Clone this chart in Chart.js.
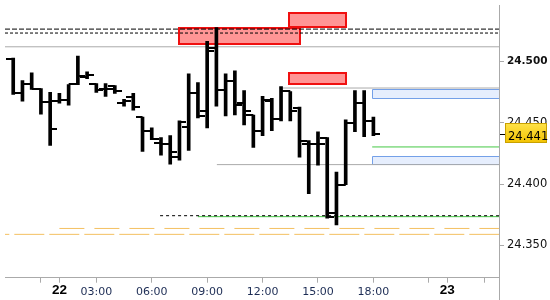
<!DOCTYPE html>
<html>
<head>
<meta charset="utf-8">
<script src="https://cdn.jsdelivr.net/npm/chart.js@4.4.1/dist/chart.umd.min.js"></script>
<style>
  html, body { margin: 0; padding: 0; background: #fff; }
  #wrap { width: 550px; height: 300px; }
</style>
</head>
<body>
<div id="wrap"><canvas id="chart" width="550" height="300"></canvas></div>
<script>
// 30 minute bars, one per slot (slot = bar index on the x axis)
const opens  = [24.5018, 24.4738, 24.4818, 24.4778, 24.4666, 24.4674, 24.4682, 24.4818, 24.4874, 24.4818,
                24.4778, 24.4802, 24.4658, 24.4706, 24.4546, 24.4434, 24.4338, 24.4330, 24.4218, 24.4466,
                24.4738, 24.4594, 24.5106, 24.4770, 24.4842, 24.4658, 24.4562, 24.4434, 24.4674, 24.4530,
                24.4754, 24.4618, 24.4330, 24.4330, 24.4378, 24.3762, 24.3994, 24.4498, 24.4658, 24.4514];
const highs  = [24.5026, 24.4842, 24.4906, 24.4778, 24.4746, 24.4738, 24.4810, 24.5042, 24.4914, 24.4818,
                24.4818, 24.4802, 24.4690, 24.4738, 24.4546, 24.4458, 24.4378, 24.4394, 24.4514, 24.4898,
                24.4826, 24.5162, 24.5274, 24.4898, 24.4922, 24.4762, 24.4562, 24.4714, 24.4698, 24.4794,
                24.4754, 24.4626, 24.4354, 24.4426, 24.4378, 24.4098, 24.4522, 24.4762, 24.4762, 24.4546];
const lows   = [24.4730, 24.4674, 24.4770, 24.4570, 24.4314, 24.4658, 24.4642, 24.4810, 24.4858, 24.4746,
                24.4714, 24.4738, 24.4634, 24.4602, 24.4266, 24.4362, 24.4234, 24.4162, 24.4194, 24.4274,
                24.4538, 24.4458, 24.4634, 24.4554, 24.4562, 24.4482, 24.4298, 24.4394, 24.4434, 24.4514,
                24.4514, 24.4218, 24.3922, 24.4154, 24.3722, 24.3666, 24.3994, 24.4426, 24.4386, 24.4394];
const closes = [24.4738, 24.4818, 24.4778, 24.4666, 24.4450, 24.4682, 24.4818, 24.4882, 24.4890, 24.4762,
                24.4778, 24.4754, 24.4674, 24.4626, 24.4434, 24.4370, 24.4330, 24.4258, 24.4506, 24.4738,
                24.4554, 24.5082, 24.4770, 24.4842, 24.4642, 24.4594, 24.4434, 24.4682, 24.4530, 24.4754,
                24.4594, 24.4354, 24.4330, 24.4330, 24.3730, 24.3994, 24.4498, 24.4658, 24.4514, 24.4410];

// time axis
const tickSlots  = [3, 5, 9, 15, 21, 27, 33, 39, 45, 47, 51];
const tickLabels = ['', '22', '03:00', '06:00', '09:00', '12:00', '15:00', '18:00', '', '23', ''];
const dayLabels  = ['22', '23'];
const xMin = -0.89, xMax = 52.6;

// price axis
const priceTicks = [24.35, 24.40, 24.45, 24.50];
const yMin = 24.32368, yMax = 24.54584;
const lastPrice = 24.441;

// horizontal levels
const levelValues  = [24.5262, 24.5230, 24.5118, 24.4782, 24.4158, 24.4302, 24.3742, 24.3734, 24.3638, 24.3590];
const levelStarts  = [xMin, xMin, xMin, 28.8, 22.05, 38.87, 15.9, 20.0, 5.0, xMin];
const levelColors  = ['#000', '#000', '#aaa', '#aaa', '#aaa', '#44c844', '#000', '#44c844', '#f4c060', '#f4c060'];
const levelDashes  = [[5, 2], [3, 2], [], [], [], [], [3, 3], [], [25, 10], [30, 5]];
const levelOffsets = [0, 0, 0, 0, 0, 0, 0, 0, 0, 25.7];

// zones: slot from, slot to, top price, bottom price
const redZones  = [[18, 31, 24.5272, 24.5144], [29.9, 36, 24.5392, 24.5280], [29.9, 36, 24.4904, 24.4813]];
const blueZones = [[38.87, xMax, 24.4776, 24.4704], [38.87, xMax, 24.4232, 24.4160]];

Chart.defaults.font.family = 'DejaVu Sans';

const labelFor = v => tickLabels[tickSlots.indexOf(v)] || '';
const isDay = v => dayLabels.includes(labelFor(v));

function tickImage(side) {
  const c = document.createElement('canvas');
  c.width = 14; c.height = 2;
  const g = c.getContext('2d');
  g.fillStyle = '#000';
  g.fillRect(side === 'open' ? 0 : 7, 0, 7, 2);
  return c;
}

const levelDatasets = levelValues.map((v, i) => ({
  type: 'line',
  data: [{ x: levelStarts[i], y: v }, { x: xMax, y: v }],
  borderColor: levelColors[i],
  borderWidth: 1,
  borderDash: levelDashes[i],
  borderDashOffset: levelOffsets[i],
  pointRadius: 0,
  fill: false,
  order: 1
}));

const zones = {
  id: 'zones',
  beforeDatasetsDraw(chart) {
    const { ctx, scales: { x, y } } = chart;
    ctx.save();
    redZones.forEach(z => {
      const x0 = Math.round(x.getPixelForValue(z[0])), x1 = Math.round(x.getPixelForValue(z[1]));
      const y0 = Math.round(y.getPixelForValue(z[2])), y1 = Math.round(y.getPixelForValue(z[3]));
      ctx.fillStyle = '#ff9595';
      ctx.fillRect(x0, y0, x1 - x0, y1 - y0);
      ctx.strokeStyle = '#f01010';
      ctx.lineWidth = 2;
      ctx.strokeRect(x0, y0, x1 - x0, y1 - y0);
    });
    blueZones.forEach(z => {
      const x0 = Math.round(x.getPixelForValue(z[0])) + 0.5, x1 = Math.round(x.getPixelForValue(z[1]));
      const y0 = Math.round(y.getPixelForValue(z[2])) + 0.5, y1 = Math.round(y.getPixelForValue(z[3])) + 0.5;
      ctx.fillStyle = '#e6eefd';
      ctx.fillRect(x0, y0, x1 - x0, y1 - y0);
      ctx.strokeStyle = '#74a0e8';
      ctx.lineWidth = 1;
      ctx.beginPath();
      ctx.moveTo(x1, y0); ctx.lineTo(x0, y0); ctx.lineTo(x0, y1); ctx.lineTo(x1, y1);
      ctx.stroke();
    });
    ctx.restore();
  },
  afterDraw(chart) {
    const { ctx, chartArea: a, scales: { y } } = chart;
    ctx.save();
    // right axis runs down to the bottom
    ctx.strokeStyle = '#aaa';
    ctx.lineWidth = 1;
    ctx.beginPath();
    ctx.moveTo(Math.round(a.right) + 0.5, a.bottom);
    ctx.lineTo(Math.round(a.right) + 0.5, chart.height);
    ctx.stroke();
    // last price marker
    const py = Math.round(y.getPixelForValue(lastPrice));
    ctx.strokeStyle = '#000';
    ctx.beginPath();
    ctx.moveTo(a.right + 1, py + 0.5); ctx.lineTo(a.right + 6, py + 0.5);
    ctx.stroke();
    const g = ctx.createLinearGradient(0, py - 11, 0, py + 9);
    g.addColorStop(0, '#ffe34a');
    g.addColorStop(1, '#f2c200');
    ctx.fillStyle = g;
    ctx.fillRect(a.right + 6.5, py - 10.5, 41, 19);
    ctx.strokeStyle = '#c9a100';
    ctx.strokeRect(a.right + 6.5, py - 10.5, 41, 19);
    ctx.fillStyle = '#000';
    ctx.font = '11.5px "DejaVu Sans"';
    ctx.textBaseline = 'alphabetic';
    ctx.fillText(lastPrice.toFixed(3), a.right + 9, py + 5.5);
    ctx.restore();
  }
};

const tickValue = c => (c && c.tick ? c.tick.value : null);

new Chart(document.getElementById('chart'), {
  type: 'bar',
  data: {
    datasets: [
      {
        type: 'bar',
        data: opens.map((o, i) => ({ x: i, y: [lows[i], highs[i]] })),
        backgroundColor: '#000',
        borderWidth: 0,
        barThickness: 3,
        order: 0
      },
      {
        type: 'line',
        data: opens.map((o, i) => ({ x: i, y: o })),
        showLine: false,
        pointStyle: tickImage('open'),
        pointRadius: 3,
        order: 0
      },
      {
        type: 'line',
        data: closes.map((c, i) => ({ x: i, y: c })),
        showLine: false,
        pointStyle: tickImage('close'),
        pointRadius: 3,
        order: 0
      },
      ...levelDatasets
    ]
  },
  options: {
    responsive: false,
    animation: false,
    layout: { padding: 0 },
    plugins: { legend: { display: false }, tooltip: { enabled: false } },
    scales: {
      x: {
        type: 'linear',
        min: xMin,
        max: xMax,
        offset: false,
        grid: { drawOnChartArea: false, drawTicks: true, tickLength: 5, color: '#aaa', offset: false },
        border: { color: '#aaa' },
        afterBuildTicks: s => { s.ticks = tickSlots.map(v => ({ value: v })); },
        afterFit: s => { s.height = 22.3; s.paddingLeft = 0; s.paddingRight = 0; },
        ticks: {
          autoSkip: false,
          maxRotation: 0,
          minRotation: 0,
          padding: 2,
          callback: v => labelFor(v),
          color: c => isDay(tickValue(c)) ? '#000' : '#1c2c54',
          font: c => isDay(tickValue(c))
            ? { family: 'Liberation Sans', size: 13.5, weight: 'bold', lineHeight: '12px' }
            : { family: 'DejaVu Sans', size: 11, lineHeight: '14px' }
        }
      },
      y: {
        position: 'right',
        min: yMin,
        max: yMax,
        beginAtZero: false,
        grid: { drawOnChartArea: false, drawTicks: true, tickLength: 5, color: '#aaa' },
        border: { color: '#aaa' },
        afterBuildTicks: s => { s.ticks = priceTicks.map(v => ({ value: v })); },
        afterFit: s => { s.width = 51; s.paddingTop = 0; s.paddingBottom = 0; },
        ticks: {
          padding: 3,
          color: '#111',
          callback: v => v.toFixed(3),
          font: c => Math.abs(tickValue(c) - 24.5) < 1e-6
            ? { family: 'DejaVu Sans', size: 10.5, weight: 'bold' }
            : { family: 'DejaVu Sans', size: 11.5 }
        }
      }
    }
  },
  plugins: [zones]
});
</script>
</body>
</html>
